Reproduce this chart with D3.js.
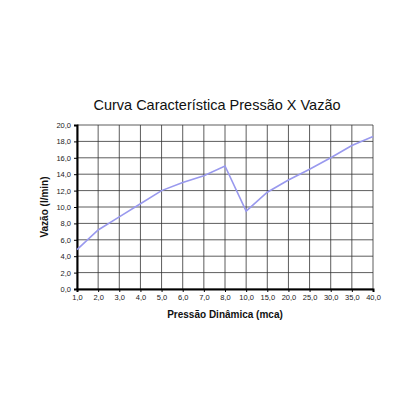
<!DOCTYPE html><html><head><meta charset="utf-8"><script src="https://cdn.jsdelivr.net/npm/d3@7"></script>
<style>body{margin:0;background:#fff}</style></head><body><svg id="c" width="420" height="420"></svg>
<script>
const categories=["1,0","2,0","3,0","4,0","5,0","6,0","7,0","8,0","10,0","15,0","20,0","25,0","30,0","35,0","40,0"];
const vazao=[4.8,7.2,8.8,10.4,12.0,13.0,13.8,15.0,9.5,11.8,13.3,14.6,16.0,17.5,18.6];
const yTicks=[0,2,4,6,8,10,12,14,16,18,20];
const svg=d3.select("#c");
const L=77,R=373,T=125,B=289;
const x=d3.scalePoint().domain(categories).range([L,R]);
const y=d3.scaleLinear().domain([0,20]).range([B,T]);
const f=d=>d.toFixed(1).replace(".",",");
const g=svg.append("g");
g.selectAll(".v").data(categories).join("line").attr("x1",d=>x(d)).attr("x2",d=>x(d)).attr("y1",T).attr("y2",B).attr("stroke","#333").attr("stroke-width",0.8);
g.selectAll(".h").data(yTicks).join("line").attr("x1",L).attr("x2",R).attr("y1",d=>y(d)).attr("y2",d=>y(d)).attr("stroke","#333").attr("stroke-width",0.8);
svg.append("g").attr("transform",`translate(${L},0)`).call(d3.axisLeft(y).tickValues(yTicks).tickFormat(f).tickSize(3))
 .call(a=>{a.select(".domain").attr("stroke","#000").attr("stroke-width",2);a.selectAll("text").attr("font-family","Arial, Liberation Sans").attr("font-size",7.5).attr("fill","#222");});
svg.append("g").attr("transform",`translate(0,${B})`).call(d3.axisBottom(x).tickSize(3))
 .call(a=>{a.select(".domain").attr("stroke","#000").attr("stroke-width",2);a.selectAll("text").attr("font-family","Arial, Liberation Sans").attr("font-size",7.5).attr("fill","#222");});
svg.append("path").datum(vazao).attr("fill","none").attr("stroke","#9999ee").attr("stroke-width",1.6)
 .attr("d",d3.line().x((d,i)=>x(categories[i])).y(d=>y(d)));
svg.append("text").attr("x",217).attr("y",110).attr("text-anchor","middle").attr("font-family","Arial, Liberation Sans").attr("font-size",14.5).attr("fill","#111").text("Curva Característica Pressão X Vazão");
svg.append("text").attr("x",225).attr("y",318).attr("text-anchor","middle").attr("font-family","Arial, Liberation Sans").attr("font-weight","bold").attr("font-size",10).attr("fill","#111").text("Pressão Dinâmica (mca)");
svg.append("text").attr("transform","translate(48,207) rotate(-90)").attr("text-anchor","middle").attr("font-family","Arial, Liberation Sans").attr("font-weight","bold").attr("font-size",10).attr("fill","#111").text("Vazão (l/min)");
</script></body></html>
